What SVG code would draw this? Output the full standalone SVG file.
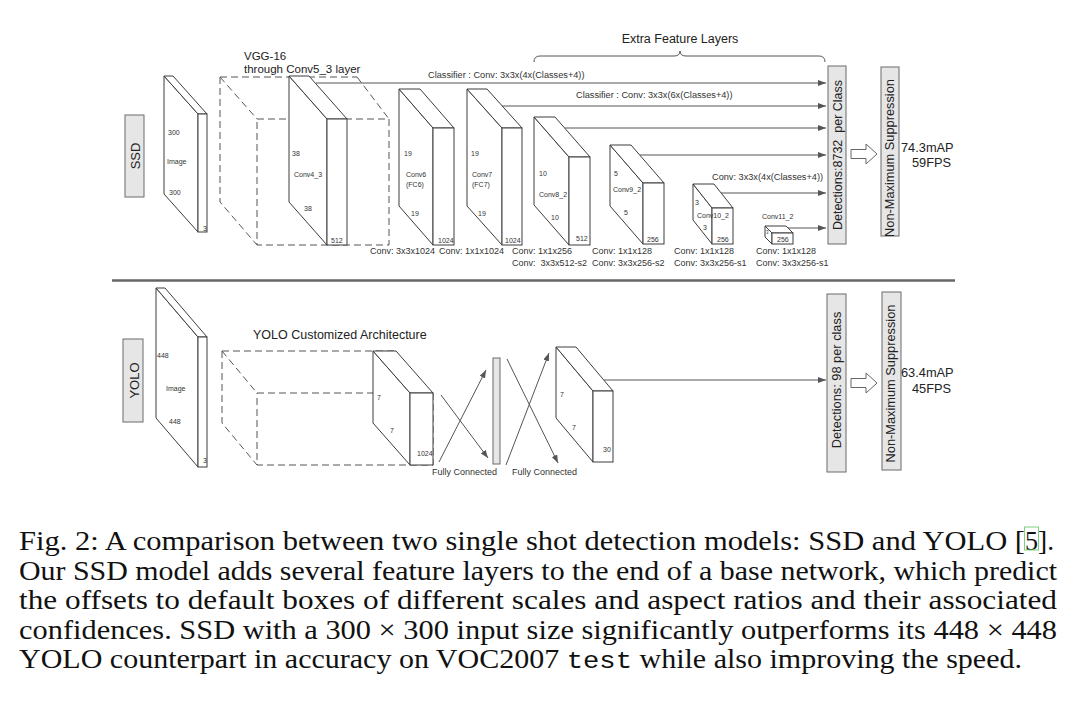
<svg xmlns="http://www.w3.org/2000/svg" width="1080" height="711" viewBox="0 0 1080 711">
<style>
.bx{fill:#fff;stroke:#3c3c3c;stroke-width:1}
.ds{fill:none;stroke:#555;stroke-width:1;stroke-dasharray:7 4}
.lb{fill:#e6e6e6;stroke:#6a6a6a;stroke-width:1}
.cn{fill:none;stroke:#555;stroke-width:1;marker-end:url(#ah)}
text{font-family:"Liberation Sans",Arial,sans-serif;fill:#333}
.s7{font-size:7px}
.s9{font-size:9px}
.s92{font-size:9.2px}
.s11{font-size:11.5px;fill:#222}
.s12{font-size:12.5px;fill:#222}
.s13{font-size:12.8px;fill:#222}
.cap{font-family:"Liberation Serif","Times New Roman",serif;font-size:26.5px;fill:#111}
</style>
<defs>
<marker id="ah" markerUnits="userSpaceOnUse" markerWidth="8" markerHeight="6" refX="8" refY="3" orient="auto">
<path d="M0,0 L8,3 L0,6 z" fill="#555"/>
</marker>
</defs>
<rect width="1080" height="711" fill="#fff"/>

<!-- separator -->
<line x1="112" y1="280.5" x2="955" y2="280.5" stroke="#666" stroke-width="2.5"/>

<!-- SSD section -->
<g id="ssd-label">
<rect class="lb" x="125" y="115" width="19" height="82"/>
<text transform="translate(139.5,156) rotate(-90)" text-anchor="middle" style="font-size:13px;fill:#222">SSD</text>
</g>

<g id="ssd-image">
<polygon class="bx" points="164,76 198,114 198,232 164,194"/>
<polygon class="bx" points="164,76 173,76 207,114 198,114"/>
<rect class="bx" x="198" y="114" width="9" height="118"/>
<text class="s7" x="168" y="134.5">300</text>
<text class="s7" x="167" y="163.5">Image</text>
<text class="s7" x="169" y="194.5">300</text>
<text class="s7" x="203" y="230.5">3</text>
</g>

<g id="vgg">
<path class="ds" d="M220,77 H357 M220,77 L257,119 M357,77 L389,119 M257,119 H389 V245 H257 Z M220,77 V202 L257,245"/>
<text class="s11" x="244" y="59.5">VGG-16</text>
<text class="s11" x="244" y="72.5">through Conv5_3 layer</text>
</g>

<g id="conv4_3">
<polygon class="bx" points="289,76 327,119 327,245 289,202"/>
<polygon class="bx" points="289,76 309,76 347,119 327,119"/>
<rect class="bx" x="327" y="119" width="20" height="126"/>
<text class="s7" x="292" y="155.5">38</text>
<text class="s7" x="294" y="176.5">Conv4_3</text>
<text class="s7" x="304" y="210.5">38</text>
<text class="s7" x="331" y="242.5">512</text>
</g>

<g id="conv6">
<polygon class="bx" points="399,89 433,128 433,245 399,206"/>
<polygon class="bx" points="399,89 420,89 454,128 433,128"/>
<rect class="bx" x="433" y="128" width="21" height="117"/>
<text class="s7" x="404" y="155.5">19</text>
<text class="s7" x="406" y="176.5">Conv6</text>
<text class="s7" x="406" y="186.5">(FC6)</text>
<text class="s7" x="411" y="215.5">19</text>
<text class="s7" x="438" y="242.5">1024</text>
</g>

<g id="conv7">
<polygon class="bx" points="467,89 502,128 502,245 467,206"/>
<polygon class="bx" points="467,89 487,89 522,128 502,128"/>
<rect class="bx" x="502" y="128" width="20" height="117"/>
<text class="s7" x="471" y="155.5">19</text>
<text class="s7" x="472" y="176.5">Conv7</text>
<text class="s7" x="472" y="186.5">(FC7)</text>
<text class="s7" x="478" y="215.5">19</text>
<text class="s7" x="505" y="242.5">1024</text>
</g>

<g id="conv8_2">
<polygon class="bx" points="534,117 569,157 569,245 534,205"/>
<polygon class="bx" points="534,117 555,117 590,157 569,157"/>
<rect class="bx" x="569" y="157" width="21" height="88"/>
<text class="s7" x="539" y="175.5">10</text>
<text class="s7" x="539" y="196.5">Conv8_2</text>
<text class="s7" x="551" y="219.5">10</text>
<text class="s7" x="576" y="240.5">512</text>
</g>

<g id="conv9_2">
<polygon class="bx" points="610,145 643,183 643,244 610,206"/>
<polygon class="bx" points="610,145 631,145 664,183 643,183"/>
<rect class="bx" x="643" y="183" width="21" height="61"/>
<text class="s7" x="614" y="175.5">5</text>
<text class="s7" x="613" y="191.5">Conv9_2</text>
<text class="s7" x="624" y="214.5">5</text>
<text class="s7" x="647" y="241.5">256</text>
</g>

<g id="conv10_2">
<polygon class="bx" points="693,184 712,208 712,244 693,220"/>
<polygon class="bx" points="693,184 714,184 733,208 712,208"/>
<rect class="bx" x="712" y="208" width="21" height="36"/>
<text class="s7" x="695" y="204.5">3</text>
<text class="s7" x="697" y="217.5">Conv10_2</text>
<text class="s7" x="703" y="229.5">3</text>
<text class="s7" x="717" y="241.5">256</text>
</g>

<g id="conv11_2">
<polygon class="bx" points="765,226 772,233 772,244 765,237"/>
<polygon class="bx" points="765,226 786,226 793,233 772,233"/>
<rect class="bx" x="772" y="233" width="21" height="11"/>
<text class="s7" x="762" y="218.5">Conv11_2</text>
<text class="s7" x="777" y="241.5">256</text>
<text x="766" y="234" style="font-size:4.5px">3</text>
</g>

<g id="ssd-layer-labels">
<text class="s9" x="370" y="254">Conv: 3x3x1024</text>
<text class="s9" x="439" y="254">Conv: 1x1x1024</text>
<text class="s9" x="512" y="254">Conv: 1x1x256</text>
<text class="s9" x="512" y="266" xml:space="preserve">Conv:  3x3x512-s2</text>
<text class="s9" x="592" y="254">Conv: 1x1x128</text>
<text class="s9" x="592" y="266">Conv: 3x3x256-s2</text>
<text class="s9" x="674" y="254">Conv: 1x1x128</text>
<text class="s9" x="674" y="266">Conv: 3x3x256-s1</text>
<text class="s9" x="756" y="254">Conv: 1x1x128</text>
<text class="s9" x="756" y="266">Conv: 3x3x256-s1</text>
</g>

<g id="extra-feature-layers">
<path d="M534,62 Q534,56 540,56 L674,56 Q680,56 680,51 Q680,56 686,56 L819,56 Q825,56 825,62" fill="none" stroke="#555" stroke-width="1"/>
<text class="s12" x="680" y="43" text-anchor="middle">Extra Feature Layers</text>
</g>

<g id="ssd-detections">
<rect class="lb" x="828" y="66" width="18" height="178"/>
<text class="s12" xml:space="preserve" transform="translate(842,155) rotate(-90)" text-anchor="middle">Detections:8732  per Class</text>
</g>

<g id="ssd-nms">
<rect class="lb" x="881" y="67" width="18" height="169"/>
<text class="s13" transform="translate(894,158) rotate(-90)" text-anchor="middle">Non-Maximum Suppression</text>
<text class="s13" x="901" y="152">74.3mAP</text>
<text class="s13" x="912" y="167">59FPS</text>
</g>

<!-- YOLO section -->
<g id="yolo-label">
<rect class="lb" x="123" y="339" width="20" height="83"/>
<text transform="translate(138.5,380.5) rotate(-90)" text-anchor="middle" style="font-size:13px;fill:#222">YOLO</text>
</g>

<g id="yolo-image">
<polygon class="bx" points="156,288 198,337 198,467 156,418"/>
<polygon class="bx" points="156,288 165,288 207,337 198,337"/>
<rect class="bx" x="198" y="337" width="9" height="130"/>
<text class="s7" x="157" y="357.5">448</text>
<text class="s7" x="166" y="390.5">Image</text>
<text class="s7" x="169" y="423.5">448</text>
<text class="s7" x="203" y="462.5">3</text>
</g>

<g id="yolo-arch">
<path class="ds" d="M222,351 H396 M222,351 L257,393 M257,393 H433 V465 H257 Z M222,351 V423 L257,465"/>
<text class="s12" x="253" y="339">YOLO Customized Architecture</text>
</g>

<g id="yolo-conv">
<polygon class="bx" points="373,351 410,393 410,465 373,423"/>
<polygon class="bx" points="373,351 396,351 433,393 410,393"/>
<rect class="bx" x="410" y="393" width="23" height="72"/>
<text class="s7" x="377" y="399.5">7</text>
<text class="s7" x="390" y="432.5">7</text>
<text class="s7" x="417" y="455.5">1024</text>
</g>

<g id="yolo-fc">
<rect class="lb" x="493" y="358" width="7" height="106"/>
<text class="s9" x="432" y="475">Fully Connected</text>
<text class="s9" x="512" y="475">Fully Connected</text>
</g>

<g id="yolo-out">
<polygon class="bx" points="556,347 593,391 593,462 556,418"/>
<polygon class="bx" points="556,347 576,347 613,391 593,391"/>
<rect class="bx" x="593" y="391" width="20" height="71"/>
<text class="s7" x="560" y="396.5">7</text>
<text class="s7" x="572" y="429.5">7</text>
<text class="s7" x="603" y="451.5">30</text>
</g>

<g id="yolo-detections">
<rect class="lb" x="827" y="294" width="19" height="178"/>
<text class="s13" transform="translate(841,380) rotate(-90)" text-anchor="middle">Detections: 98 per class</text>
</g>

<g id="yolo-nms">
<rect class="lb" x="882" y="292" width="19" height="178"/>
<text class="s13" transform="translate(895,383.5) rotate(-90)" text-anchor="middle">Non-Maximum Suppression</text>
<text class="s13" x="901" y="377">63.4mAP</text>
<text class="s13" x="912" y="393">45FPS</text>
</g>

<!-- connectors -->
<g id="connectors">
<path class="cn" d="M316,83 H826"/>
<path class="cn" d="M502,106 H826"/>
<path class="cn" d="M565,128 H826"/>
<path class="cn" d="M640,155 H826"/>
<path class="cn" d="M721,193 H826"/>
<path class="cn" d="M788,228 H826"/>
<path class="cn" d="M441,395 L488,458"/>
<path class="cn" d="M439,462 L486,370"/>
<path class="cn" d="M507,359 L558,463"/>
<path class="cn" d="M506,465 L549,353"/>
<path class="cn" d="M604,380 H826"/>
<polygon points="851,149.5 866,149.5 866,144 877,154 866,164 866,158.5 851,158.5" fill="#fff" stroke="#666" stroke-width="1"/>
<polygon points="851,378.5 866,378.5 866,373 877,383 866,393 866,387.5 851,387.5" fill="#fff" stroke="#666" stroke-width="1"/>
<text class="s92" x="428" y="78">Classifier : Conv: 3x3x(4x(Classes+4))</text>
<text class="s92" x="576" y="98">Classifier : Conv: 3x3x(6x(Classes+4))</text>
<text class="s92" x="712" y="180">Conv: 3x3x(4x(Classes+4))</text>
</g>

<!-- caption -->
<g id="caption">
<text class="cap" x="19" y="550" textLength="1006" lengthAdjust="spacingAndGlyphs">Fig. 2: A comparison between two single shot detection models: SSD and YOLO [</text>
<text class="cap" x="1025" y="550" textLength="13" lengthAdjust="spacingAndGlyphs">5</text>
<text class="cap" x="1038" y="550" textLength="16" lengthAdjust="spacingAndGlyphs">].</text>
<rect x="1024.5" y="527" width="14" height="23" fill="none" stroke="#7fd07f" stroke-width="1"/>
<text class="cap" x="19" y="579.5" textLength="1038" lengthAdjust="spacingAndGlyphs">Our SSD model adds several feature layers to the end of a base network, which predict</text>
<text class="cap" x="19" y="609" textLength="1038" lengthAdjust="spacingAndGlyphs">the offsets to default boxes of different scales and aspect ratios and their associated</text>
<text class="cap" x="19" y="638.5" textLength="1038" lengthAdjust="spacingAndGlyphs">confidences. SSD with a 300 × 300 input size significantly outperforms its 448 × 448</text>
<text class="cap" x="19" y="668" textLength="1003" lengthAdjust="spacingAndGlyphs">YOLO counterpart in accuracy on VOC2007 <tspan style="font-family:'Liberation Mono',monospace;font-size:24px">test</tspan> while also improving the speed.</text>
</g>
</svg>
